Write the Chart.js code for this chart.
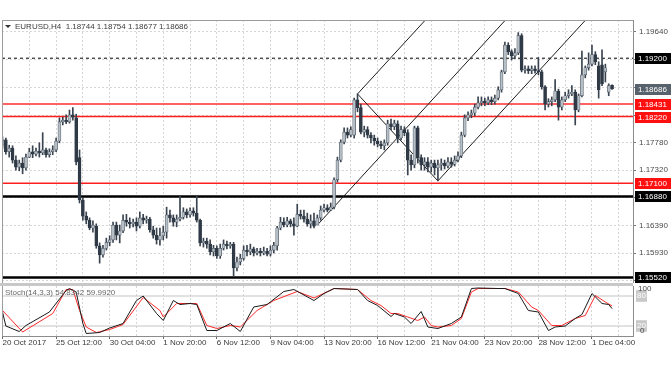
<!DOCTYPE html>
<html><head><meta charset="utf-8">
<script src="https://cdn.jsdelivr.net/npm/chart.js@4.4.0/dist/chart.umd.min.js"></script>
<style>
html,body{margin:0;padding:0;background:#fff;width:672px;height:372px;overflow:hidden;}
#wrap{position:relative;width:672px;height:372px;}
#c1{position:absolute;left:0;top:0;}
#c2{position:absolute;left:0;top:283px;}
.txt{position:absolute;font-family:"Liberation Sans",Arial,sans-serif;font-size:8px;color:#3c3c3c;white-space:pre;line-height:9px;}
#sep{position:absolute;left:0;top:283px;width:633px;height:3px;background:#c8c8c8;}
#tri{position:absolute;left:5px;top:25px;width:0;height:0;border-left:3px solid transparent;border-right:3px solid transparent;border-top:3px solid #333;}
</style></head><body>
<div id="wrap">
<canvas id="c1" width="672" height="283"></canvas>
<canvas id="c2" width="672" height="89"></canvas>
<div id="sep"></div>
<div id="tri"></div>
<div class="txt" style="left:15px;top:22px;">EURUSD,H4  1.18744 1.18754 1.18677 1.18686</div>
<div class="txt" style="left:5px;top:288px;color:#6a6a6a">Stoch(14,3,3) 54.8342 59.9920</div>
</div>
<script>
// ---------- data ----------
const timeLabels = ["20 Oct 2017","25 Oct 12:00","30 Oct 04:00","1 Nov 20:00","6 Nov 12:00","9 Nov 04:00","13 Nov 20:00","16 Nov 12:00","21 Nov 04:00","23 Nov 20:00","28 Nov 12:00","1 Dec 04:00"];
const timeLabelBars = [0,16,32,48,64,80,96,112,128,144,160,176];
const gridBars = [0,8,16,24,32,40,48,56,64,72,80,88,96,104,112,120,128,136,144,152,160,168,176,184];
const priceTicks = [1.1964,1.19175,1.1871,1.18245,1.1778,1.1732,1.16855,1.1639,1.1593,1.15465];

const opens = [1.1774,1.1783,1.1763,1.1769,1.1749,1.1737,1.1744,1.1736,1.1754,1.1763,1.1759,1.1764,1.1761,1.1766,1.1758,1.1763,1.1766,1.1781,1.1813,1.1816,
1.1813,1.1825,1.1820,1.1753,1.1682,1.1655,1.1648,1.1635,1.1638,1.1605,1.1590,1.1601,1.1611,1.1615,1.1640,1.1623,1.1630,1.1648,1.1645,1.1642,
1.1645,1.1638,1.1652,1.1648,1.1650,1.1632,1.1623,1.1615,1.1622,1.1628,1.1657,1.1652,1.1645,1.1650,1.1653,1.1662,1.1657,1.1664,1.1660,1.1648,
1.1610,1.1613,1.1608,1.1595,1.1601,1.1588,1.1601,1.1608,1.1605,1.1608,1.1568,1.1578,1.1584,1.1598,1.1595,1.1600,1.1593,1.1596,1.1593,1.1596,
1.1591,1.1598,1.1605,1.1635,1.1645,1.1640,1.1647,1.1642,1.1638,1.1658,1.1655,1.1650,1.1642,1.1647,1.1640,1.1652,1.1665,1.1669,1.1665,1.1670,
1.1716,1.1749,1.1779,1.1796,1.1791,1.1791,1.1850,1.1837,1.1796,1.1800,1.1791,1.1786,1.1781,1.1776,1.1773,1.1778,1.1810,1.1805,1.1810,1.1786,
1.1800,1.1795,1.1749,1.1741,1.1803,1.1753,1.1741,1.1746,1.1737,1.1744,1.1736,1.1741,1.1744,1.1739,1.1746,1.1742,1.1749,1.1756,1.1791,1.1820,
1.1825,1.1828,1.1838,1.1845,1.1848,1.1845,1.1850,1.1847,1.1853,1.1867,1.1897,1.1942,1.1931,1.1924,1.1929,1.1958,1.1900,1.1902,1.1899,1.1902,
1.1899,1.1897,1.1872,1.1843,1.1847,1.1850,1.1865,1.1838,1.1850,1.1857,1.1860,1.1863,1.1833,1.1857,1.1892,1.1904,1.1910,1.1926,1.1907,1.1909,
1.1897,1.1863,1.18744];
const highs = [1.1788,1.1786,1.1774,1.1773,1.1756,1.1749,1.1753,1.1759,1.1769,1.1773,1.1769,1.1778,1.1795,1.1769,1.1768,1.1773,1.1786,1.1820,1.1821,1.1825,
1.1833,1.1837,1.1826,1.1766,1.1685,1.1662,1.1652,1.1647,1.1642,1.1610,1.1606,1.1618,1.1622,1.1645,1.1645,1.1640,1.1657,1.1658,1.1652,1.1650,
1.1652,1.1662,1.1658,1.1655,1.1653,1.1638,1.1635,1.1635,1.1638,1.1670,1.1665,1.1657,1.1657,1.1689,1.1669,1.1667,1.1669,1.1669,1.1689,1.1650,
1.1618,1.1618,1.1615,1.1606,1.1605,1.1608,1.1615,1.1613,1.1611,1.1611,1.1586,1.1591,1.1605,1.1606,1.1608,1.1603,1.1601,1.1601,1.1603,1.1601,
1.1605,1.1611,1.1638,1.1653,1.1652,1.1653,1.1650,1.1652,1.1675,1.1665,1.1665,1.1660,1.1657,1.1660,1.1657,1.1672,1.1675,1.1674,1.1677,1.1719,
1.1754,1.1783,1.1803,1.1803,1.1805,1.1853,1.1860,1.1843,1.1806,1.1805,1.1795,1.1791,1.1786,1.1781,1.1783,1.1816,1.1818,1.1816,1.1815,1.1806,
1.1805,1.1800,1.1758,1.1806,1.1806,1.1758,1.1753,1.1753,1.1749,1.1749,1.1749,1.1751,1.1749,1.1753,1.1753,1.1756,1.1763,1.1796,1.1825,1.1830,
1.1833,1.1843,1.1855,1.1855,1.1853,1.1855,1.1855,1.1858,1.1872,1.1900,1.1947,1.1946,1.1934,1.1936,1.1963,1.1961,1.1907,1.1907,1.1907,1.1907,
1.1921,1.1900,1.1874,1.1852,1.1855,1.1884,1.1868,1.1855,1.1863,1.1867,1.1874,1.1867,1.1860,1.1932,1.1907,1.1929,1.1942,1.1931,1.1914,1.1934,
1.1910,1.1877,1.18754];
const lows = [1.1769,1.1759,1.1754,1.1744,1.1732,1.1731,1.1726,1.1732,1.1753,1.1753,1.1756,1.1754,1.1758,1.1754,1.1754,1.1758,1.1763,1.1778,1.1808,1.1810,
1.1811,1.1816,1.1741,1.1677,1.1648,1.1642,1.1632,1.1628,1.1601,1.1576,1.1586,1.1598,1.1605,1.1611,1.1615,1.1610,1.1627,1.1638,1.1635,1.1637,
1.1630,1.1635,1.1642,1.1643,1.1628,1.1618,1.1608,1.1606,1.1615,1.1618,1.1645,1.1638,1.1637,1.1647,1.1650,1.1652,1.1653,1.1655,1.1645,1.1605,
1.1603,1.1601,1.1590,1.1588,1.1584,1.1584,1.1598,1.1600,1.1601,1.1554,1.1563,1.1573,1.1581,1.1588,1.1590,1.1588,1.1590,1.1588,1.1590,1.1588,
1.1588,1.1593,1.1598,1.1632,1.1637,1.1637,1.1637,1.1623,1.1637,1.1650,1.1645,1.1638,1.1635,1.1635,1.1640,1.1648,1.1662,1.1662,1.1664,1.1667,
1.1712,1.1746,1.1776,1.1786,1.1788,1.1786,1.1830,1.1793,1.1788,1.1786,1.1778,1.1774,1.1771,1.1768,1.1766,1.1774,1.1800,1.1800,1.1778,1.1783,
1.1790,1.1724,1.1732,1.1736,1.1744,1.1732,1.1732,1.1729,1.1729,1.1724,1.1714,1.1732,1.1734,1.1736,1.1737,1.1739,1.1746,1.1753,1.1788,1.1815,
1.1820,1.1823,1.1835,1.1840,1.1840,1.1842,1.1842,1.1843,1.1850,1.1863,1.1894,1.1926,1.1917,1.1919,1.1926,1.1897,1.1895,1.1894,1.1894,1.1895,
1.1892,1.1868,1.1833,1.1838,1.1840,1.1847,1.1816,1.1833,1.1847,1.1853,1.1857,1.1808,1.1830,1.1855,1.1887,1.1900,1.1907,1.1909,1.1853,1.1874,
1.1880,1.1857,1.18677];
const closes = [1.1783,1.1763,1.1769,1.1749,1.1737,1.1744,1.1736,1.1754,1.1763,1.1759,1.1764,1.1761,1.1766,1.1758,1.1763,1.1766,1.1781,1.1813,1.1816,1.1813,
1.1825,1.1821,1.1746,1.1682,1.1655,1.1648,1.1635,1.1640,1.1605,1.1590,1.1601,1.1611,1.1615,1.1640,1.1623,1.1630,1.1648,1.1645,1.1642,1.1645,
1.1638,1.1652,1.1648,1.1650,1.1632,1.1623,1.1615,1.1622,1.1628,1.1657,1.1652,1.1645,1.1650,1.1653,1.1662,1.1657,1.1664,1.1660,1.1648,1.1610,
1.1613,1.1608,1.1595,1.1601,1.1588,1.1601,1.1608,1.1605,1.1608,1.1568,1.1578,1.1584,1.1598,1.1595,1.1600,1.1593,1.1596,1.1593,1.1596,1.1591,
1.1598,1.1606,1.1635,1.1645,1.1640,1.1647,1.1642,1.1638,1.1658,1.1655,1.1650,1.1642,1.1647,1.1638,1.1652,1.1665,1.1669,1.1665,1.1670,1.1716,
1.1749,1.1779,1.1796,1.1791,1.1800,1.1850,1.1837,1.1796,1.1800,1.1791,1.1786,1.1781,1.1776,1.1773,1.1778,1.1810,1.1805,1.1811,1.1786,1.1800,
1.1795,1.1749,1.1741,1.1803,1.1753,1.1741,1.1746,1.1737,1.1744,1.1736,1.1741,1.1744,1.1739,1.1746,1.1742,1.1749,1.1756,1.1791,1.1820,1.1825,
1.1828,1.1838,1.1845,1.1848,1.1845,1.1850,1.1847,1.1853,1.1867,1.1897,1.1942,1.1931,1.1924,1.1929,1.1958,1.1900,1.1902,1.1899,1.1902,1.1899,
1.1897,1.1872,1.1843,1.1847,1.1850,1.1865,1.1838,1.1850,1.1857,1.1860,1.1863,1.1833,1.1857,1.1892,1.1904,1.1910,1.1926,1.1914,1.1867,1.1877,
1.1904,1.1874,1.18686];

const levelValues = [1.19200,1.18431,1.18220,1.17100,1.16880,1.15520];
const pivotBars = [94,106,130];
const pivotPrices = [1.1640,1.1860,1.1714];

const stochKBars = [0,1,5,7,14,19,20,22,24,25,29,32,36,40,42,46,48,51,53,56,58,61,64,68,71,75,79,84,87,93,96,99,106,109,112,116,117,120,122,125,127,130,134,137,140,142,148,150,154,157,160,163,165,168,171,173,176,179,181,182];
const stochK = [48,20,9,21,48,91,95,88,25,5,7,16,25,71,80,45,31,71,63,65,63,11,11,25,9,58,63,89,93,71,85,95,93,71,61,39,45,38,25,49,18,15,25,38,95,96,95,95,85,51,48,11,18,20,35,43,85,65,63,54.8342];
const stochDBars = [0,6,15,19,21,23,25,28,32,36,42,47,48,52,58,61,64,68,71,76,81,88,93,99,106,110,113,116,118,121,124,126,128,130,134,137,140,142,150,154,158,160,164,167,171,174,177,180,182];
const stochD = [51,8,45,93,93,51,18,7,13,23,77,51,38,65,65,21,15,21,18,51,71,89,76,95,93,71,61,45,45,38,31,38,21,18,21,35,88,95,95,88,58,51,21,21,35,41,81,68,59.992];
const stochLevels = [80,20];

// ---------- styles ----------
const FONT = '"Liberation Sans", Arial, sans-serif';
Chart.defaults.font.family = FONT;
Chart.defaults.font.size = 8;
const xMin = -0.15, xMax = 188.25;
const upFill = '#b6bec6', upBorder = '#56606b', downFill = '#2f3a46', wickColor = '#3a4450';
const levelLine = [
  {c:'#000000', w:1, d:[3,3]},
  {c:'rgba(255,70,70,0.85)', w:2, d:[]},
  {c:'#ff1e1e', w:1.5, d:[]},
  {c:'#ff1e1e', w:1.5, d:[]},
  {c:'#000000', w:2.5, d:[]},
  {c:'#000000', w:2.5, d:[]}
];
const levelBox = ['#000000','#ff1010','#ff1010','#ff1010','#000000','#000000'];
const gridColor = '#d6d6d6';

// ---------- main chart ----------
const wicks = lows.map((l,i)=>({x:i, y:[l, highs[i]]}));
const bodies = opens.map((o,i)=>({x:i, y:[o, closes[i]]}));
const isUp = i => closes[i] >= opens[i];

const levelSets = levelValues.map((v,k)=>({
  type:'line', data:[{x:xMin,y:v},{x:xMax,y:v}], borderColor:levelLine[k].c, borderWidth:levelLine[k].w,
  borderDash:levelLine[k].d, pointRadius:0, order:10
}));
// pitchfork: median from pivot 1 through midpoint of pivots 2-3, tines parallel from pivots 2 and 3
const midBar = (pivotBars[1]+pivotBars[2])/2, midPrice = (pivotPrices[1]+pivotPrices[2])/2;
const slope = (midPrice - pivotPrices[0])/(midBar - pivotBars[0]);
const ray = (b,p) => [{x:b,y:p},{x:xMax,y:p + slope*(xMax-b)}];
const forkSets = [
  ray(pivotBars[0], pivotPrices[0]),
  ray(pivotBars[1], pivotPrices[1]),
  ray(pivotBars[2], pivotPrices[2]),
  [{x:pivotBars[1],y:pivotPrices[1]},{x:pivotBars[2],y:pivotPrices[2]}]
].map(d=>({type:'line', data:d, borderColor:'#1e1e1e', borderWidth:1, pointRadius:0, order:8}));

const framePlugin = {
  id:'frame',
  afterDraw(chart, args, opts){
    const {ctx, chartArea:a} = chart;
    ctx.save(); ctx.strokeStyle = '#9c9c9c'; ctx.lineWidth = 1;
    ctx.beginPath();
    if (opts.top) { ctx.moveTo(a.left, a.top+0.5); ctx.lineTo(a.right, a.top+0.5); }
    ctx.moveTo(a.left+0.5, a.top); ctx.lineTo(a.left+0.5, a.bottom);
    ctx.stroke(); ctx.restore();
  }
};
const boxPlugin = {
  id:'boxes',
  afterDraw(chart){
    const ys = chart.scales.y, ctx = chart.ctx;
    ctx.save(); ctx.font = '8px ' + FONT; ctx.textBaseline = 'middle'; ctx.textAlign = 'left';
    const draw = (v, bg) => {
      const py = Math.round(ys.getPixelForValue(v));
      ctx.fillStyle = bg; ctx.fillRect(635, py-5, 36, 11);
      ctx.fillStyle = '#ffffff'; ctx.fillText(v.toFixed(5), 638, py+0.5);
    };
    levelValues.forEach((v,k)=>draw(v, levelBox[k]));
    draw(closes[closes.length-1], '#58626c');
    ctx.restore();
  }
};
const noPad = s => { s.paddingTop = 0; s.paddingBottom = 0; s.paddingLeft = 0; s.paddingRight = 0; };

new Chart(document.getElementById('c1'), {
  type:'bar',
  data:{datasets:[
    {type:'bar', data:wicks, backgroundColor:wickColor, grouped:false, barPercentage:1, categoryPercentage:1, maxBarThickness:1, order:2},
    {type:'bar', data:bodies, grouped:false, barPercentage:1, categoryPercentage:1, maxBarThickness:3,
     backgroundColor: c => isUp(c.dataIndex) ? upFill : downFill,
     borderColor: c => isUp(c.dataIndex) ? upBorder : downFill, borderWidth:0.7, borderSkipped:false, order:1},
    ...forkSets, ...levelSets
  ]},
  options:{
    responsive:false, animation:false, devicePixelRatio:1,
    layout:{padding:{top:20,left:2,right:0,bottom:0}},
    plugins:{legend:{display:false}, tooltip:{enabled:false}, frame:{top:true}},
    scales:{
      x:{type:'linear', min:xMin, max:xMax, offset:false,
         afterBuildTicks: s => { s.ticks = gridBars.map(v=>({value:v})); },
         afterFit: s => { s.height = 0; noPad(s); },
         ticks:{display:false},
         grid:{offset:false, color:gridColor, drawTicks:false, lineWidth:1},
         border:{display:false, dash:[2,2]}},
      y:{type:'linear', position:'right', min:1.15427, max:1.19841, beginAtZero:false,
         afterBuildTicks: s => { s.ticks = priceTicks.map(v=>({value:v})); },
         afterFit: s => { s.width = 39; noPad(s); },
         ticks:{callback: v => Number(v).toFixed(5), color:'#4a4a4a', padding:3, autoSkip:false, font:{size:8}},
         grid:{color:gridColor, drawTicks:true, tickLength:3, tickColor:'#777777'},
         border:{display:true, color:'#8c8c8c', dash:[2,2]}}
    }
  },
  plugins:[framePlugin, boxPlugin]
});

// ---------- stochastic chart ----------
const stochPlugin = {
  id:'stochLabels',
  afterDraw(chart){
    const ys = chart.scales.y, ctx = chart.ctx;
    ctx.save(); ctx.font = '8px ' + FONT; ctx.textBaseline = 'middle'; ctx.fillStyle = '#4a4a4a';
    ctx.fillText('100', 638, ys.getPixelForValue(100) + 3);
    ctx.fillText('0', 640, ys.getPixelForValue(0) - 5);
    ctx.restore();
  }
};
new Chart(document.getElementById('c2'), {
  type:'line',
  data:{datasets:[
    {data: stochKBars.map((b,i)=>({x:b,y:stochK[i]})), borderColor:'#1a1a1a', borderWidth:1, pointRadius:0, tension:0, order:1},
    {data: stochDBars.map((b,i)=>({x:b,y:stochD[i]})), borderColor:'#ff2a2a', borderWidth:1, pointRadius:0, tension:0, order:2},
    ...stochLevels.map(v=>({data:[{x:xMin,y:v},{x:xMax,y:v}], borderColor:'#c4c4c4', borderWidth:1, pointRadius:0, order:5}))
  ]},
  options:{
    responsive:false, animation:false, devicePixelRatio:1,
    layout:{padding:{top:3,left:2,right:0,bottom:0}},
    plugins:{legend:{display:false}, tooltip:{enabled:false}, frame:{top:false}},
    scales:{
      x:{type:'linear', min:xMin, max:xMax, offset:false,
         afterBuildTicks: s => { s.ticks = gridBars.map(v=>({value:v})); },
         afterFit: s => { s.height = 36; noPad(s); },
         ticks:{autoSkip:false, maxRotation:0, align:'start', padding:-1, color:'#3a3a3a', font:{size:8},
                callback: v => { const k = timeLabelBars.indexOf(v); return k >= 0 ? timeLabels[k] : ''; }},
         grid:{offset:false, color:gridColor, drawTicks:true, tickLength:3,
               tickColor: c => (c.tick && timeLabelBars.includes(c.tick.value)) ? '#666666' : 'rgba(0,0,0,0)'},
         border:{display:true, color:'#8c8c8c', dash:[2,2]}},
      y:{type:'linear', position:'right', min:0, max:100,
         afterBuildTicks: s => { s.ticks = stochLevels.map(v=>({value:v})); },
         afterFit: s => { s.width = 39; noPad(s); },
         ticks:{padding:4, color:'#ffffff', font:{size:8}, showLabelBackdrop:true, backdropColor:'#c8c8c8', backdropPadding:1},
         grid:{display:false, drawTicks:false},
         border:{display:true, color:'#8c8c8c'}}
    }
  },
  plugins:[framePlugin, stochPlugin]
});
</script>
</body></html>
